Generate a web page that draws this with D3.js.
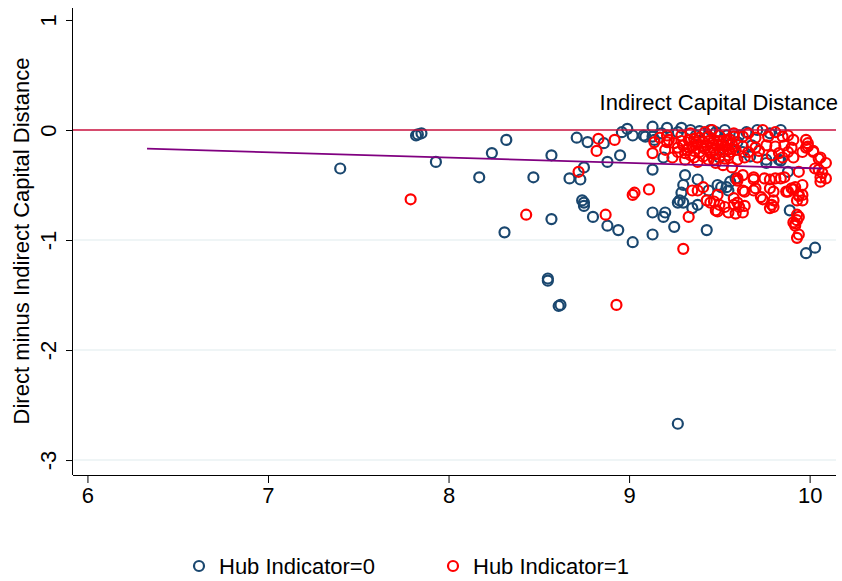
<!DOCTYPE html>
<html>
<head>
<meta charset="utf-8">
<script src="https://cdn.jsdelivr.net/npm/d3@7"></script>
<style>
  html, body { margin: 0; padding: 0; background: #ffffff; }
  svg { display: block; }
  text { font-family: "Liberation Sans", Arial, Helvetica, sans-serif; fill: #000; }
</style>
</head>
<body>
<svg id="chart" width="842" height="581"></svg>
<script>
// ---- data ----
const seriesNames = ["Hub Indicator=0", "Hub Indicator=1"];
const xTicks = [6, 7, 8, 9, 10];
const yTicks = [1, 0, -1, -2, -3];
const gridTicks = [-1, -2, -3];
const refLineValue = 0;
const refLineLabel = "Indirect Capital Distance";
const yTitle = "Direct minus Indirect Capital Distance";
const fitX = [6.33, 10.07];
const fitY = [-0.17, -0.35];

// Hub Indicator = 0  [x, y]
const hub0 = [
  [7.40,-0.35],[7.83,-0.04],[7.82,-0.05],[7.85,-0.03],[7.93,-0.29],[8.17,-0.43],[8.24,-0.21],
  [8.32,-0.09],[8.31,-0.93],[8.47,-0.43],[8.57,-0.23],[8.57,-0.81],[8.55,-1.35],[8.55,-1.37],
  [8.61,-1.60],[8.62,-1.59],[8.71,-0.07],[8.77,-0.11],[8.67,-0.44],[8.73,-0.45],[8.75,-0.34],
  [8.74,-0.64],[8.75,-0.66],[8.75,-0.69],[8.80,-0.79],[8.88,-0.87],[8.88,-0.29],[8.86,-0.12],
  [8.95,-0.23],[8.94,-0.91],[9.02,-1.02],[8.96,-0.02],[8.99,0.01],[9.02,-0.05],[9.08,-0.05],
  [9.13,0.03],[9.13,-0.06],[9.18,-0.03],[9.21,0.02],[9.27,-0.02],[9.29,0.02],[9.09,-0.06],
  [9.14,-0.09],[9.13,-0.36],[9.19,-0.25],[9.13,-0.75],[9.19,-0.79],[9.20,-0.75],[9.13,-0.95],
  [9.25,-0.88],[9.27,-0.66],[9.30,-0.66],[9.31,-0.41],[9.30,-0.50],[9.29,-0.57],[9.28,-0.64],
  [9.38,-0.45],[9.38,-0.68],[9.35,-0.71],[9.43,-0.91],[9.49,-0.50],[9.54,-0.52],[9.56,-0.47],
  [9.59,-0.44],[9.50,-0.25],[9.45,0.00],[9.53,0.00],[9.60,-0.11],[9.63,-0.20],[9.65,-0.02],
  [9.68,-0.14],[9.71,0.00],[9.76,-0.27],[9.83,-0.27],[9.88,-0.38],[9.89,-0.73],[9.98,-1.12],
  [10.03,-1.07],[9.27,-2.67],[9.34,0.00],[9.39,-0.01],[9.37,-0.05],[9.48,-0.02],[9.54,-0.05],
  [9.61,-0.05],[9.78,-0.03],[9.84,0.00],[9.67,-0.24],[9.76,-0.30],[9.84,-0.28],[9.44,-0.55],
  [9.51,-0.52],[9.55,-0.55]
];

// Hub Indicator = 1  [x, y]
const hub1 = [
  [7.79,-0.63],[8.43,-0.77],[8.72,-0.38],[8.83,-0.08],[8.92,-0.09],[8.82,-0.19],[8.87,-0.77],
  [9.02,-0.59],[9.03,-0.57],[9.11,-0.54],[8.93,-1.59],[9.30,-1.08],[9.33,-0.79],[9.14,-0.11],
  [9.21,-0.05],[9.21,-0.11],[9.13,-0.21],[9.27,-0.16],[9.17,-0.07],[9.22,-0.09],[9.29,-0.05],
  [9.34,-0.03],[9.37,-0.11],[9.39,-0.07],[9.43,-0.14],[9.47,-0.09],[9.50,-0.05],[9.53,-0.15],
  [9.27,-0.20],[9.34,-0.23],[9.39,-0.20],[9.45,-0.21],[9.50,-0.18],[9.55,-0.23],[9.33,-0.16],
  [9.30,-0.14],[9.35,-0.15],[9.41,-0.11],[9.49,-0.14],[9.52,-0.32],[9.57,-0.34],[9.60,-0.27],
  [9.35,-0.55],[9.38,-0.55],[9.41,-0.52],[9.43,-0.64],[9.47,-0.65],[9.49,-0.59],[9.50,-0.68],
  [9.53,-0.70],[9.58,-0.68],[9.48,-0.73],[9.55,-0.75],[9.58,-0.62],[9.60,-0.66],[9.63,-0.06],
  [9.66,-0.03],[9.70,-0.07],[9.74,0.00],[9.77,-0.06],[9.81,-0.02],[9.85,-0.06],[9.88,-0.05],
  [9.91,-0.09],[9.63,-0.15],[9.70,-0.16],[9.76,-0.14],[9.81,-0.15],[9.86,-0.14],[9.90,-0.16],
  [9.64,-0.25],[9.71,-0.25],[9.79,-0.23],[9.85,-0.25],[9.98,-0.09],[9.99,-0.15],[10.02,-0.20],
  [10.06,-0.25],[9.96,-0.20],[9.91,-0.25],[10.03,-0.35],[10.06,-0.43],[10.06,-0.47],[9.94,-0.38],
  [9.63,-0.41],[9.69,-0.43],[9.75,-0.44],[9.81,-0.44],[9.86,-0.43],[9.63,-0.55],[9.70,-0.53],
  [9.73,-0.61],[9.78,-0.53],[9.80,-0.64],[9.79,-0.68],[9.78,-0.71],[9.88,-0.56],[9.92,-0.52],
  [9.94,-0.59],[9.96,-0.50],[9.96,-0.59],[9.61,-0.70],[9.63,-0.75],[9.93,-0.77],[9.91,-0.84],
  [9.94,-0.79],[9.92,-0.85],[9.94,-0.95],[9.96,-0.64],[9.80,-0.70],[9.99,-0.12],[10.05,-0.36],
  [9.60,-0.44],[9.90,-0.53],[9.20,-0.18],[9.24,-0.25],[9.31,-0.27],[9.38,-0.29],[9.44,-0.27],
  [9.48,-0.30],[9.46,0.00],[9.56,-0.09],[9.59,-0.18],[9.42,-0.02],[9.45,-0.66],[9.49,-0.74],
  [9.59,-0.76],[9.64,-0.69],[9.60,-0.46],[9.64,-0.56],[9.69,-0.55],[9.74,-0.63],[9.80,-0.56],
  [9.87,-0.56],[9.91,-0.54],[9.94,-0.60],[9.93,-0.64],[9.93,-0.82],[9.92,-0.87],[9.93,-0.98],
  [9.84,-0.44],[9.78,-0.45],[9.69,-0.45],[9.98,-0.16],[10.02,-0.19],[10.05,-0.26],[10.09,-0.30],
  [10.07,-0.39],[10.09,-0.44],[9.56,-0.20],[9.66,-0.20],[9.72,-0.19],[9.83,-0.21],[9.88,-0.20],
  [9.36,-0.19],[9.42,-0.17],[9.47,-0.18],[9.52,-0.10],[9.57,-0.13],
  [9.29,-0.10],[9.32,-0.18],[9.36,-0.08],[9.40,-0.14],[9.44,-0.06],[9.46,-0.12],[9.48,-0.22],
  [9.51,-0.13],[9.54,-0.09],[9.55,-0.18],[9.58,-0.06],[9.41,-0.24],[9.46,-0.16],[9.52,-0.20],
  [9.38,-0.13],[9.33,-0.09],[9.44,-0.10],[9.50,-0.10],[9.57,-0.17],[9.25,-0.12],[9.31,-0.21],
  [9.36,-0.25],[9.47,-0.27],[9.53,-0.26],[9.58,-0.03]
];

(function () {
  // ---- layout ----
  const svg = d3.select("#chart");
  const L = 73, R = 836, T = 8, B = 475;
  const navy = "#1a476f", red = "#ff0000";
  const FS = 22;
  const fmt = d => String(d);

  const x = d3.scaleLinear().domain([5.92, 10.146]).range([L, R]);
  const y = d3.scaleLinear().domain([-3.136, 1.109]).range([B, T]);

  // grid lines
  svg.append("g").selectAll("line").data(gridTicks).join("line")
    .attr("x1", L + 1).attr("x2", R)
    .attr("y1", d => y(d)).attr("y2", d => y(d))
    .attr("stroke", "#eaf2f3").attr("stroke-width", 1.5);

  // points
  function drawPoints(data, color) {
    svg.append("g").selectAll("circle").data(data).join("circle")
      .attr("cx", d => x(d[0])).attr("cy", d => y(d[1]))
      .attr("r", 5)
      .attr("fill", "none").attr("stroke", color).attr("stroke-width", 2.2);
  }
  drawPoints(hub0, navy);
  drawPoints(hub1, red);

  // reference line at 0
  svg.append("line")
    .attr("x1", L).attr("x2", R)
    .attr("y1", y(refLineValue)).attr("y2", y(refLineValue))
    .attr("stroke", "#c8103e").attr("stroke-width", 1.6);
  svg.append("text")
    .attr("x", R + 2).attr("y", y(refLineValue) - 20)
    .attr("text-anchor", "end").attr("font-size", FS)
    .text(refLineLabel);

  // fitted line
  svg.append("path")
    .datum(fitX.map((v, i) => [v, fitY[i]]))
    .attr("d", d3.line().x(d => x(d[0])).y(d => y(d[1])))
    .attr("fill", "none").attr("stroke", "#800080").attr("stroke-width", 1.8);

  // axes
  const xAxis = d3.axisBottom(x).tickValues(xTicks).tickSize(8).tickPadding(4).tickFormat(fmt);
  const gx = svg.append("g").attr("transform", `translate(0,${B})`).call(xAxis);
  gx.select(".domain").attr("d", `M${L},0.5H${R}`).attr("stroke", "#000");
  gx.selectAll(".tick line").attr("stroke", "#000");
  gx.selectAll(".tick text").attr("font-size", FS).attr("font-family", "Liberation Sans, Arial, sans-serif").attr("fill", "#000");

  const yAxis = d3.axisLeft(y).tickValues(yTicks).tickSize(7).tickFormat(fmt);
  const gy = svg.append("g").attr("transform", `translate(${L},0)`).call(yAxis);
  gy.select(".domain").attr("d", `M-0.5,${T}V${B}`).attr("stroke", "#000");
  gy.selectAll(".tick line").attr("stroke", "#000");
  gy.selectAll(".tick text")
    .attr("font-size", FS).attr("font-family", "Liberation Sans, Arial, sans-serif").attr("fill", "#000")
    .attr("text-anchor", "middle").attr("x", null).attr("dy", null)
    .attr("transform", "translate(-25,0) rotate(-90)")
    .attr("dominant-baseline", "central");

  // y title
  svg.append("text")
    .attr("transform", `translate(21,241) rotate(-90)`)
    .attr("text-anchor", "middle").attr("dominant-baseline", "central")
    .attr("font-size", FS)
    .text(yTitle);

  // legend
  const legend = svg.append("g");
  const legItems = [
    {name: seriesNames[0], color: navy, cx: 199},
    {name: seriesNames[1], color: red, cx: 453}
  ];
  legItems.forEach(it => {
    legend.append("circle").attr("cx", it.cx).attr("cy", 566).attr("r", 5)
      .attr("fill", "none").attr("stroke", it.color).attr("stroke-width", 2.2);
    legend.append("text").attr("x", it.cx + 20).attr("y", 566)
      .attr("dominant-baseline", "central").attr("font-size", FS)
      .text(it.name);
  });
})();
</script>
</body>
</html>
